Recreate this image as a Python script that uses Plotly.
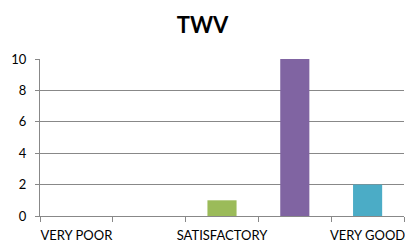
import plotly.graph_objects as go

categories = ["VERY POOR", "POOR", "SATISFACTORY", "GOOD", "VERY GOOD"]
values = [0, 0, 1, 10, 2]
colors = ["#4F81BD", "#C0504D", "#9BBB59", "#8064A2", "#4BACC6"]
shown_labels = ["VERY POOR", "SATISFACTORY", "VERY GOOD"]
y_ticks = [0, 2, 4, 6, 8, 10]

idx = list(range(len(categories)))
label_pos = [categories.index(c) for c in shown_labels]
boundaries = [i - 0.5 for i in range(len(categories) + 1)]

FONT = "Lato, Open Sans, Liberation Sans, sans-serif"

fig = go.Figure(go.Bar(x=idx, y=values, marker=dict(color=colors, line=dict(width=0)),
                       width=0.4, hoverinfo="x+y"))

fig.update_layout(
    width=405, height=244,
    margin=dict(l=40, r=1, t=59, b=28, autoexpand=False),
    paper_bgcolor="white", plot_bgcolor="white",
    showlegend=False,
    font=dict(family=FONT, size=13, color="#000000"),
    title=dict(text="<b>TWV</b>", x=0.5, xanchor="center", y=1 - 25 / 244, yanchor="middle",
               font=dict(size=22, family=FONT)),
    xaxis=dict(range=[-0.5, len(categories) - 0.5], tickmode="array", tickvals=label_pos,
               ticktext=shown_labels, ticks="", showgrid=False, zeroline=False, showline=True,
               linecolor="#888888", linewidth=1, tickfont=dict(size=13), automargin=False,
               ticklabeloverflow="allow", ticklabelstandoff=7,
               minor=dict(tickmode="array", tickvals=boundaries, ticks="outside", ticklen=5,
                          tickcolor="#888888", tickwidth=1, showgrid=False)),
    yaxis=dict(range=[0, 10], tickvals=y_ticks, showgrid=True, gridcolor="#888888", gridwidth=1,
               zeroline=False, showline=True, linecolor="#888888", linewidth=1, automargin=False,
               ticks="outside", ticklen=4, tickcolor="#888888", tickfont=dict(size=13),
               ticklabelstandoff=6),
)

fig.write_html("out.html", config={"displayModeBar": False},
               post_script="document.body.style.margin='0';document.body.style.padding='0';")
